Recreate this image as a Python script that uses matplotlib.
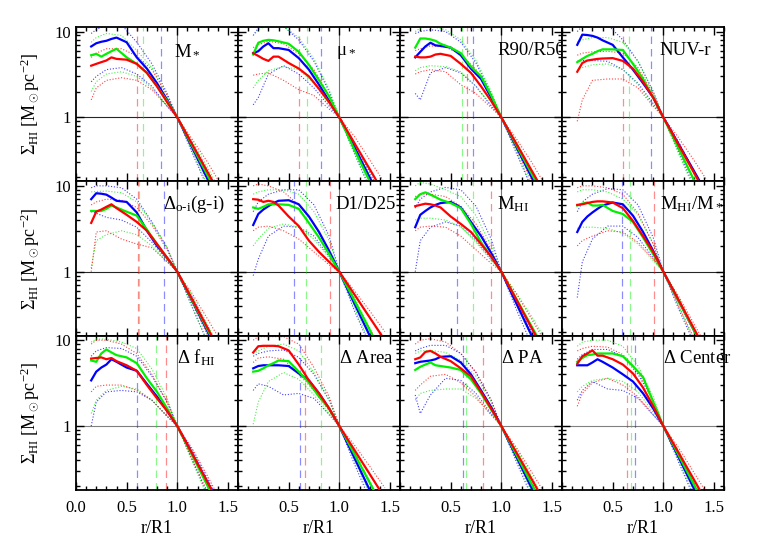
import matplotlib
matplotlib.use("Agg")
import matplotlib.pyplot as plt
from matplotlib.ticker import FixedLocator, MultipleLocator, NullFormatter, FixedFormatter
import numpy as np

plt.rcParams['font.family'] = ['Liberation Serif', 'DejaVu Serif']
plt.rcParams['mathtext.fontset'] = 'custom'
plt.rcParams['mathtext.rm'] = 'Liberation Serif'
plt.rcParams['mathtext.it'] = 'Liberation Serif:italic'

# panel names, row by row
titles = [r'M$_*$', r'μ$_*$', 'R90/R50', 'NUV-r',
          r'$\Delta_{\rm o\text{-}i}$(g-i)', 'D1/D25', r'M$_{\rm HI}$', r'M$_{\rm HI}$/M$_*$',
          r'$\Delta$ f$_{\rm HI}$', r'$\Delta$ Area', r'$\Delta$ PA', r'$\Delta$ Center']

# radii of the median profiles and of the dotted envelopes
xm = [0.15, 0.2, 0.25, 0.3, 0.35, 0.4, 0.5, 0.6, 0.7, 0.8, 0.9, 1.0, 1.15, 1.3, 1.45]
xe = [0.15, 0.2, 0.3, 0.45, 0.6, 0.75, 0.9, 1.0, 1.15, 1.3, 1.45]

med_b = [
    [6.7, 7.3, 7.6, 7.8, 8.2, 8.5, 7.5, 5.0, 3.7, 2.5, 1.6, 1.0, 0.44, 0.19, 0.083],
    [5.6, 5.9, 6.7, 7.3, 6.4, 6.4, 6.1, 4.9, 3.6, 2.4, 1.55, 1.0, 0.45, 0.2, 0.089],
    [5.0, 5.8, 6.7, 7.4, 6.9, 6.8, 6.5, 5.3, 3.7, 2.8, 1.7, 1.0, 0.45, 0.2, 0.089],
    [7.0, 9.2, 9.1, 8.9, 8.5, 7.9, 7.0, 5.0, 3.6, 2.5, 1.7, 1.0, 0.49, 0.24, 0.117],
    [7.0, 8.2, 8.1, 7.9, 7.3, 6.7, 6.5, 4.9, 3.0, 2.0, 1.45, 1.0, 0.45, 0.2, 0.089],
    [3.5, 4.7, 5.3, 5.8, 6.3, 6.7, 6.8, 6.1, 4.4, 2.9, 1.75, 1.0, 0.424, 0.18, 0.076],
    [3.3, 4.6, 5.1, 5.6, 6.0, 6.3, 6.5, 5.6, 3.8, 2.6, 1.65, 1.0, 0.424, 0.18, 0.076],
    [2.9, 3.8, 4.4, 4.9, 5.4, 5.9, 6.4, 6.1, 4.5, 2.9, 1.75, 1.0, 0.46, 0.21, 0.096],
    [3.4, 4.3, 4.8, 5.2, 6.0, 5.6, 4.8, 4.4, 3.1, 2.2, 1.5, 1.0, 0.47, 0.22, 0.103],
    [4.7, 5.0, 5.1, 5.1, 5.1, 5.1, 5.0, 4.1, 3.4, 2.4, 1.6, 1.0, 0.424, 0.18, 0.076],
    [5.4, 5.6, 5.7, 5.8, 6.0, 6.4, 6.5, 5.5, 4.0, 2.6, 1.66, 1.0, 0.436, 0.189, 0.083],
    [5.1, 5.1, 5.1, 5.5, 6.0, 5.6, 4.8, 4.0, 3.3, 2.4, 1.6, 1.0, 0.436, 0.189, 0.083],
]
med_g = [
    [5.3, 5.5, 5.1, 5.5, 5.9, 6.3, 5.0, 4.2, 3.3, 2.3, 1.55, 1.0, 0.46, 0.21, 0.096],
    [5.4, 7.4, 7.8, 8.0, 7.9, 7.7, 7.2, 5.8, 4.1, 2.7, 1.75, 1.0, 0.42, 0.18, 0.076],
    [6.5, 8.3, 8.3, 8.1, 7.8, 7.2, 6.5, 5.6, 3.9, 3.0, 1.8, 1.0, 0.47, 0.22, 0.103],
    [4.4, 4.8, 5.2, 5.5, 5.9, 6.2, 6.2, 6.1, 4.2, 2.8, 1.7, 1.0, 0.436, 0.189, 0.083],
    [5.1, 5.1, 5.1, 5.4, 5.9, 5.6, 5.0, 4.5, 3.1, 2.1, 1.45, 1.0, 0.46, 0.21, 0.096],
    [5.6, 5.4, 5.7, 6.1, 6.1, 6.1, 6.0, 5.4, 3.7, 2.5, 1.6, 1.0, 0.46, 0.21, 0.096],
    [7.0, 8.0, 8.4, 7.9, 7.4, 6.9, 6.3, 5.5, 3.6, 2.2, 1.5, 1.0, 0.48, 0.23, 0.11],
    [5.9, 6.2, 6.4, 5.9, 5.9, 6.0, 5.1, 4.7, 3.8, 2.5, 1.6, 1.0, 0.46, 0.21, 0.096],
    [5.8, 5.6, 7.0, 7.8, 7.2, 6.7, 6.3, 5.4, 3.6, 2.5, 1.6, 1.0, 0.45, 0.2, 0.089],
    [4.3, 4.4, 4.7, 5.1, 5.4, 5.8, 5.7, 4.3, 3.2, 2.2, 1.6, 1.0, 0.47, 0.22, 0.103],
    [4.5, 4.9, 5.2, 5.5, 5.1, 5.0, 4.8, 4.5, 3.5, 2.4, 1.55, 1.0, 0.46, 0.21, 0.096],
    [5.6, 6.2, 6.7, 6.8, 7.0, 7.0, 7.0, 6.5, 5.0, 3.7, 1.9, 1.0, 0.46, 0.21, 0.096],
]
med_r = [
    [4.0, 4.2, 4.4, 4.6, 5.0, 4.8, 4.7, 4.2, 3.3, 2.3, 1.5, 1.0, 0.48, 0.23, 0.11],
    [5.6, 5.2, 4.8, 4.55, 5.1, 5.1, 4.3, 3.7, 3.0, 2.15, 1.5, 1.0, 0.5, 0.25, 0.124],
    [5.1, 5.0, 5.0, 5.1, 5.4, 5.5, 5.2, 4.2, 3.3, 2.3, 1.55, 1.0, 0.49, 0.24, 0.117],
    [3.4, 4.3, 4.6, 4.7, 4.8, 4.85, 4.9, 4.55, 3.7, 2.6, 1.7, 1.0, 0.48, 0.23, 0.11],
    [3.7, 5.0, 5.3, 5.7, 6.1, 5.5, 4.6, 3.8, 3.0, 2.1, 1.45, 1.0, 0.47, 0.22, 0.103],
    [7.0, 6.9, 6.5, 6.7, 6.5, 5.9, 4.4, 3.4, 2.3, 1.7, 1.3, 1.0, 0.542, 0.293, 0.159],
    [5.8, 6.0, 6.2, 6.1, 5.9, 5.6, 4.4, 3.6, 2.9, 2.1, 1.5, 1.0, 0.47, 0.22, 0.103],
    [6.0, 6.1, 6.3, 6.5, 6.6, 6.6, 6.4, 5.5, 3.9, 2.6, 1.7, 1.0, 0.47, 0.22, 0.103],
    [6.1, 6.2, 6.3, 6.0, 6.2, 5.7, 5.1, 4.4, 3.0, 2.1, 1.5, 1.0, 0.47, 0.22, 0.103],
    [7.2, 8.5, 8.6, 8.6, 8.6, 8.5, 7.6, 5.2, 3.4, 2.4, 1.6, 1.0, 0.525, 0.276, 0.145],
    [6.0, 6.3, 7.3, 7.5, 7.0, 6.4, 5.7, 4.7, 3.8, 2.5, 1.6, 1.0, 0.49, 0.24, 0.117],
    [5.3, 6.5, 7.0, 7.6, 6.6, 6.6, 6.0, 5.2, 4.1, 2.8, 1.7, 1.0, 0.49, 0.24, 0.117],
]

hi_b = [
    [9.5, 10.5, 12, 12, 7.5, 4.2, 1.9, 1.0, 0.5, 0.24, 0.11],
    [9, 11, 12, 11.5, 8, 4.5, 2.0, 1.0, 0.5, 0.23, 0.1],
    [9.5, 10, 10.5, 10, 7.5, 4.3, 1.9, 1.0, 0.5, 0.23, 0.1],
    [10, 11.5, 12, 12, 8, 4.5, 2.0, 1.0, 0.52, 0.24, 0.11],
    [9.5, 10, 10, 9.5, 7.0, 3.8, 1.9, 1.0, 0.5, 0.23, 0.1],
    [5.0, 6.5, 8.0, 9.0, 9.0, 6.0, 2.6, 1.0, 0.48, 0.2, 0.09],
    [5.5, 7.0, 8.5, 9.6, 9.0, 5.8, 2.4, 1.0, 0.47, 0.2, 0.085],
    [5.0, 6.5, 8.0, 9.3, 9.0, 6.0, 2.5, 1.0, 0.48, 0.21, 0.09],
    [6.5, 7.5, 8.2, 8.0, 6.5, 3.8, 1.9, 1.0, 0.52, 0.24, 0.11],
    [6.5, 7.0, 7.5, 7.7, 6.3, 4.0, 2.0, 1.0, 0.48, 0.21, 0.09],
    [7.5, 8.0, 8.7, 8.7, 7.0, 4.2, 2.0, 1.0, 0.5, 0.22, 0.1],
    [6.0, 6.8, 7.8, 7.8, 6.5, 4.0, 2.0, 1.0, 0.5, 0.22, 0.1],
]
lo_b = [
    [2.6, 3.0, 3.6, 3.8, 3.2, 2.3, 1.35, 1.0, 0.38, 0.15, 0.06],
    [1.4, 1.7, 3.2, 4.0, 3.2, 2.2, 1.35, 1.0, 0.38, 0.15, 0.06],
    [1.9, 1.6, 3.3, 3.8, 3.3, 2.3, 1.35, 1.0, 0.38, 0.15, 0.06],
    [4.5, 4.6, 4.6, 4.5, 3.6, 2.5, 1.45, 1.0, 0.4, 0.16, 0.07],
    [5.0, 4.8, 4.3, 4.0, 3.3, 2.2, 1.35, 1.0, 0.38, 0.15, 0.06],
    [0.9, 1.4, 2.6, 3.4, 3.3, 2.6, 1.5, 1.0, 0.35, 0.14, 0.055],
    [1.0, 2.3, 3.3, 3.8, 3.4, 2.3, 1.4, 1.0, 0.36, 0.14, 0.055],
    [0.5, 1.3, 2.4, 3.4, 3.4, 2.5, 1.45, 1.0, 0.37, 0.15, 0.06],
    [1.0, 1.9, 2.5, 2.6, 2.5, 2.0, 1.3, 1.0, 0.4, 0.16, 0.065],
    [2.6, 3.1, 2.9, 2.3, 2.4, 2.1, 1.35, 1.0, 0.36, 0.14, 0.055],
    [2.3, 1.4, 2.3, 3.6, 3.4, 2.4, 1.4, 1.0, 0.38, 0.15, 0.06],
    [2.0, 2.6, 3.3, 2.7, 2.6, 2.1, 1.35, 1.0, 0.38, 0.15, 0.06],
]
hi_g = [
    [7.5, 8.5, 9.5, 9.0, 6.0, 3.8, 1.8, 1.0, 0.52, 0.26, 0.12],
    [9, 10.5, 12, 11.5, 8.5, 4.8, 2.1, 1.0, 0.5, 0.22, 0.1],
    [10, 11, 11.5, 10.5, 8, 4.6, 2.0, 1.0, 0.52, 0.24, 0.11],
    [7.5, 8.0, 8.5, 8.5, 7.5, 4.5, 2.0, 1.0, 0.5, 0.22, 0.1],
    [8.5, 8.6, 8.7, 8.3, 6.5, 3.7, 1.9, 1.0, 0.52, 0.24, 0.11],
    [8.0, 8.5, 9.0, 9.0, 8.0, 5.0, 2.3, 1.0, 0.5, 0.22, 0.1],
    [10, 11, 10.5, 9.0, 7.5, 4.5, 2.0, 1.0, 0.56, 0.3, 0.15],
    [8.5, 9.0, 9.0, 8.5, 7.0, 4.6, 2.1, 1.0, 0.5, 0.22, 0.1],
    [9.5, 10.3, 10.3, 9.5, 8.0, 4.6, 2.1, 1.0, 0.5, 0.22, 0.1],
    [7.0, 7.5, 8.5, 9.0, 7.5, 4.2, 2.0, 1.0, 0.5, 0.23, 0.1],
    [7.0, 7.5, 7.6, 7.2, 5.8, 3.8, 1.9, 1.0, 0.54, 0.26, 0.12],
    [8.5, 9.5, 10, 10, 8.5, 5.0, 2.2, 1.0, 0.52, 0.24, 0.11],
]
lo_g = [
    [2.0, 2.6, 3.2, 3.4, 3.0, 2.2, 1.35, 1.0, 0.4, 0.16, 0.065],
    [2.2, 2.7, 3.5, 3.9, 3.6, 2.5, 1.4, 1.0, 0.38, 0.15, 0.06],
    [3.5, 3.8, 4.0, 3.9, 3.4, 2.3, 1.4, 1.0, 0.4, 0.16, 0.065],
    [3.5, 3.8, 4.1, 4.2, 3.6, 2.4, 1.4, 1.0, 0.38, 0.15, 0.06],
    [1.1, 2.3, 2.7, 3.0, 2.7, 2.0, 1.3, 1.0, 0.38, 0.15, 0.06],
    [2.0, 2.4, 3.2, 3.6, 3.3, 2.4, 1.45, 1.0, 0.38, 0.15, 0.06],
    [4.0, 4.2, 4.2, 4.0, 3.3, 2.2, 1.35, 1.0, 0.4, 0.17, 0.07],
    [3.2, 3.3, 3.3, 3.2, 2.8, 2.1, 1.35, 1.0, 0.4, 0.16, 0.065],
    [1.4, 2.0, 2.6, 2.9, 2.7, 2.0, 1.3, 1.0, 0.38, 0.15, 0.06],
    [1.05, 1.9, 3.3, 4.2, 3.5, 2.3, 1.4, 1.0, 0.4, 0.16, 0.065],
    [2.0, 2.4, 2.6, 2.7, 2.7, 2.1, 1.35, 1.0, 0.4, 0.17, 0.07],
    [2.5, 2.9, 3.4, 3.6, 3.3, 2.5, 1.45, 1.0, 0.4, 0.16, 0.065],
]
hi_r = [
    [5.0, 5.6, 6.3, 6.3, 5.2, 3.6, 1.8, 1.0, 0.55, 0.3, 0.15],
    [6.5, 7.0, 7.7, 7.2, 5.5, 3.6, 1.8, 1.0, 0.6, 0.32, 0.17],
    [6.0, 6.3, 6.8, 6.6, 5.4, 3.6, 1.8, 1.0, 0.56, 0.3, 0.15],
    [5.3, 5.6, 5.8, 5.9, 5.6, 3.8, 1.9, 1.0, 0.58, 0.32, 0.17],
    [6.0, 6.5, 7.0, 6.8, 5.6, 3.5, 1.8, 1.0, 0.55, 0.28, 0.14],
    [10, 10.5, 10, 8.5, 6.0, 3.6, 1.7, 1.0, 0.6, 0.35, 0.2],
    [7.5, 8.0, 8.0, 7.5, 5.8, 3.6, 1.8, 1.0, 0.55, 0.28, 0.14],
    [9.5, 10, 10, 9.5, 8.0, 4.8, 2.1, 1.0, 0.52, 0.25, 0.12],
    [9.0, 10, 10, 9.0, 7.0, 4.0, 1.9, 1.0, 0.54, 0.26, 0.12],
    [10, 11, 11, 11, 9, 4.8, 2.2, 1.0, 0.6, 0.34, 0.19],
    [9.0, 10, 10.4, 9.5, 7.0, 4.2, 2.0, 1.0, 0.56, 0.29, 0.15],
    [7.5, 8.0, 8.5, 8.3, 6.8, 4.3, 2.0, 1.0, 0.56, 0.29, 0.15],
]
lo_r = [
    [1.6, 2.2, 2.7, 2.9, 2.7, 2.1, 1.35, 1.0, 0.42, 0.18, 0.075],
    [3.1, 3.2, 3.3, 2.7, 2.1, 1.8, 1.25, 1.0, 0.42, 0.18, 0.08],
    [3.2, 3.4, 3.6, 3.4, 2.4, 1.9, 1.3, 1.0, 0.42, 0.18, 0.08],
    [0.9, 1.6, 2.7, 2.8, 2.8, 2.2, 1.35, 1.0, 0.42, 0.18, 0.08],
    [1.0, 2.9, 3.0, 2.4, 2.1, 1.9, 1.3, 1.0, 0.42, 0.18, 0.075],
    [3.0, 3.3, 3.4, 3.0, 2.4, 1.7, 1.2, 1.0, 0.45, 0.22, 0.1],
    [3.0, 3.3, 3.4, 3.3, 2.6, 1.8, 1.25, 1.0, 0.42, 0.18, 0.075],
    [2.0, 2.3, 2.6, 3.0, 2.9, 2.2, 1.4, 1.0, 0.4, 0.17, 0.07],
    [2.5, 2.9, 3.0, 3.0, 2.6, 2.0, 1.3, 1.0, 0.4, 0.17, 0.07],
    [5.5, 6.2, 6.4, 6.0, 4.0, 2.6, 1.5, 1.0, 0.46, 0.22, 0.1],
    [2.6, 3.0, 3.8, 4.0, 3.2, 2.2, 1.35, 1.0, 0.42, 0.18, 0.08],
    [1.7, 2.4, 3.2, 3.6, 3.0, 2.2, 1.35, 1.0, 0.42, 0.18, 0.08],
]

# dashed vertical markers
vx_b = [0.84, 0.82, 0.72, 0.88, 0.87, 0.55, 0.56, 0.59, 0.60, 0.61, 0.62, 0.72]
vx_g = [0.66, 0.68, 0.61, 0.66, 0.62, 0.67, 0.72, 0.67, 0.79, 0.82, 0.65, 0.68]
vx_r = [0.60, 0.60, 0.66, 0.60, 0.61, 0.91, 0.90, 0.91, 0.89, 0.66, 0.82, 0.64]

label_x = [0.965, 0.965, 0.965, 0.965, 0.86, 0.965, 0.96, 0.965, 1.0, 1.0, 1.0, 1.0]

cols = {'b': '#0000ff', 'g': '#00f000', 'r': '#ff0000'}

fig, axes = plt.subplots(3, 4, figsize=(7.63, 5.45), dpi=100)
fig.subplots_adjust(left=0.0996, right=0.949, top=0.9505, bottom=0.101,
                    wspace=0, hspace=0)

dots = (0, (1, 1.6))
for i in range(12):
    ax = axes[i // 4][i % 4]
    ax.set_yscale('log')
    hcol = '0.5' if i // 4 == 2 else '0.15'
    ax.axhline(1.0, color=hcol, lw=0.8, zorder=1)
    ax.axvline(1.0, color='0.45', lw=0.8, zorder=1)

    sets = [('b', med_b, hi_b, lo_b, vx_b),
            ('g', med_g, hi_g, lo_g, vx_g),
            ('r', med_r, hi_r, lo_r, vx_r)]
    for key, med, hi, lo, vx in sets:
        c = cols[key]
        ax.plot(xe, hi[i], color=c, lw=0.8, ls=dots, alpha=0.75, zorder=2)
        ax.plot(xe, lo[i], color=c, lw=0.8, ls=dots, alpha=0.75, zorder=2)
        ax.axvline(vx[i], color=c, lw=0.9, ls=(0, (6, 4)), alpha=0.45, zorder=2)
    for key, med, hi, lo, vx in sets:
        ax.plot(xm, med[i], color=cols[key], lw=1.6, zorder=3)

    ax.text(label_x[i], 0.82, titles[i], transform=ax.get_xaxis_transform(),
            fontsize=13.5, va='baseline', ha='left', zorder=5)

    ax.set_xlim(0, 1.6)
    ax.set_ylim(0.18, 11.3)
    ax.xaxis.set_major_locator(MultipleLocator(0.5))
    ax.xaxis.set_minor_locator(MultipleLocator(0.1))
    ax.yaxis.set_major_locator(FixedLocator([1, 10]))
    ax.yaxis.set_minor_locator(FixedLocator([0.2, 0.3, 0.4, 0.5, 0.6, 0.7, 0.8, 0.9,
                                             2, 3, 4, 5, 6, 7, 8, 9]))
    ax.yaxis.set_minor_formatter(NullFormatter())
    ax.tick_params(which='both', direction='in', top=True, right=True,
                   labelsize=12, width=1.0)
    ax.tick_params(which='major', length=6)
    ax.tick_params(which='minor', length=3)
    ax.tick_params(axis='x', pad=7)
    for s in ax.spines.values():
        s.set_linewidth(1.3)

    if i % 4 == 0:
        ax.yaxis.set_major_formatter(FixedFormatter(['1', '10']))
        ax.set_ylabel(r'$\Sigma_{\rm HI}$ [M$_\odot$pc$^{-2}$]', fontsize=13)
        ax.yaxis.set_label_coords(-0.21, 0.5)
    else:
        ax.set_yticklabels([])
    if i // 4 == 2:
        if i % 4 == 0:
            ax.set_xticks([0, 0.5, 1.0, 1.5])
            ax.set_xticklabels(['0.0', '0.5', '1.0', '1.5'])
        else:
            ax.set_xticks([0, 0.5, 1.0, 1.5])
            ax.set_xticklabels(['', '0.5', '1.0', '1.5'])
        ax.set_xlabel('r/R1', fontsize=13, labelpad=3)
    else:
        ax.set_xticklabels([])

fig.savefig('out.png', dpi=100)
